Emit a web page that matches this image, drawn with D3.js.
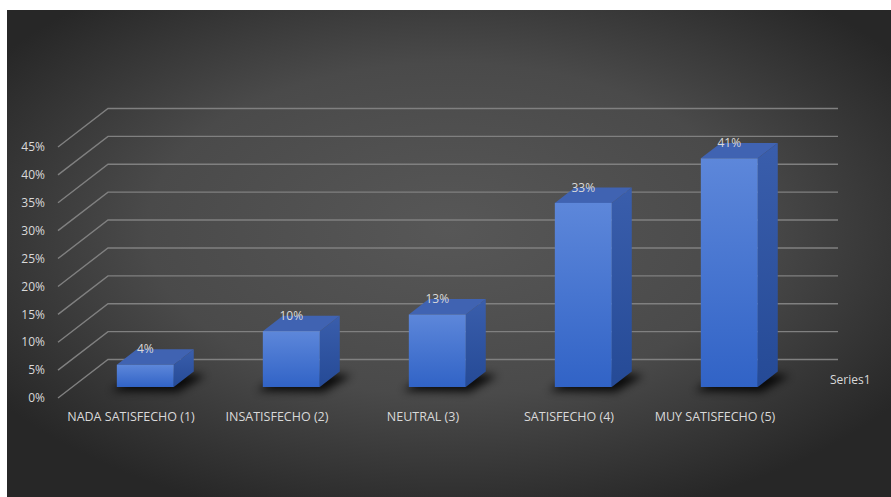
<!DOCTYPE html>
<html>
<head>
<meta charset="utf-8">
<script src="https://cdn.jsdelivr.net/npm/d3@7"></script>
<style>
  html, body { margin: 0; padding: 0; background: #ffffff; }
  svg { display: block; }
  text { font-family: "Open Sans", Lato, sans-serif; fill: #d9d9d9; }
</style>
</head>
<body>
<svg id="chart" width="891" height="497"></svg>
<script>
const categories = ["NADA SATISFECHO (1)", "INSATISFECHO (2)", "NEUTRAL (3)", "SATISFECHO (4)", "MUY SATISFECHO (5)"];
const values = [0.04, 0.10, 0.13, 0.33, 0.41];
const valueLabels = ["4%", "10%", "13%", "33%", "41%"];
const tickValues = [0, 0.05, 0.10, 0.15, 0.20, 0.25, 0.30, 0.35, 0.40, 0.45];
const seriesName = "Series1";

const svg = d3.select("#chart");
const defs = svg.append("defs");

// background
const bg = defs.append("radialGradient").attr("id", "bgGrad")
  .attr("cx", "50%").attr("cy", "45%").attr("r", "62%");
bg.append("stop").attr("offset", "0%").attr("stop-color", "#575757");
bg.append("stop").attr("offset", "55%").attr("stop-color", "#4a4a4a");
bg.append("stop").attr("offset", "100%").attr("stop-color", "#272727");
svg.append("rect").attr("x", 7).attr("y", 10).attr("width", 884).attr("height", 487)
  .attr("fill", "url(#bgGrad)");

// gradients for bar faces
const gFront = defs.append("linearGradient").attr("id", "gFront").attr("x1", 0).attr("y1", 0).attr("x2", 0).attr("y2", 1);
gFront.append("stop").attr("offset", "0%").attr("stop-color", "#5d87da");
gFront.append("stop").attr("offset", "100%").attr("stop-color", "#3163c6");
const gSide = defs.append("linearGradient").attr("id", "gSide").attr("x1", 0).attr("y1", 0).attr("x2", 0).attr("y2", 1);
gSide.append("stop").attr("offset", "0%").attr("stop-color", "#3a5eac");
gSide.append("stop").attr("offset", "100%").attr("stop-color", "#254a96");
const blur = defs.append("filter").attr("id", "shadowBlur").attr("x", "-50%").attr("y", "-50%").attr("width", "200%").attr("height", "200%");
blur.append("feGaussianBlur").attr("stdDeviation", 4);

// 3D oblique geometry
const frontX0 = 58, plotW = 730;
const depthVec = [50, -38.5];   // wall depth (front -> back)
const barDepthStart = 0.286, barDepthLen = 0.4;

const x = d3.scaleBand().domain(categories).range([frontX0, frontX0 + plotW]).paddingInner(0.61).paddingOuter(0.305);
const y = d3.scaleLinear().domain([0, 0.45]).range([398, 147]);

function proj(px, v, t) {
  return [px + depthVec[0] * t, y(v) + depthVec[1] * t];
}

// gridlines (back wall + left floor diagonal)
const grid = svg.append("g");
tickValues.forEach(v => {
  const f = proj(frontX0, v, 0);
  const b = proj(frontX0, v, 1);
  const e = proj(frontX0 + plotW, v, 1);
  grid.append("path")
    .attr("d", d3.line()([f, b, e]))
    .attr("fill", "none").attr("stroke", "#808080").attr("stroke-width", 1.4);
});

// y tick labels
svg.append("g").selectAll("text").data(tickValues).join("text")
  .attr("x", 45).attr("y", d => y(d)).attr("dy", "0.35em")
  .attr("text-anchor", "end").attr("font-size", 12)
  .text(d => d3.format(".0%")(d));

// bars
const bars = svg.append("g");
categories.forEach((c, i) => {
  const v = values[i];
  const x0 = x(c), x1 = x(c) + x.bandwidth();
  const t0 = barDepthStart, t1 = barDepthStart + barDepthLen;
  const fl0 = proj(x0, 0, t0), fr0 = proj(x1, 0, t0);
  const fl1 = proj(x0, v, t0), fr1 = proj(x1, v, t0);
  const br0 = proj(x1, 0, t1), br1 = proj(x1, v, t1), bl1 = proj(x0, v, t1), bl0 = proj(x0, 0, t1);

  // shadow
  bars.append("path")
    .attr("d", d3.line()([
      [fl0[0] - 6, fl0[1] + 4], [fr0[0] + 4, fr0[1] + 5], [br0[0] + 12, br0[1] + 4], [bl0[0] + 6, bl0[1] - 2]
    ]) + "Z")
    .attr("fill", "#000").attr("opacity", 0.85).attr("filter", "url(#shadowBlur)");

  // side
  bars.append("path").attr("d", d3.line()([fr0, br0, br1, fr1]) + "Z").attr("fill", "url(#gSide)");
  // top
  bars.append("path").attr("d", d3.line()([fl1, fr1, br1, bl1]) + "Z").attr("fill", "#4063b2");
  // front
  bars.append("rect").attr("x", fl1[0]).attr("y", fl1[1])
    .attr("width", fr1[0] - fl1[0]).attr("height", fl0[1] - fl1[1])
    .attr("fill", "url(#gFront)");

  // value label
  bars.append("text")
    .attr("x", (fl1[0] + fr1[0]) / 2).attr("y", bl1[1]).attr("dy", "0.35em")
    .attr("text-anchor", "middle").attr("font-size", 12)
    .text(valueLabels[i]);
});

// category labels (front plane)
svg.append("g").selectAll("text").data(categories).join("text")
  .attr("x", d => x(d) + x.bandwidth() / 2).attr("y", 417).attr("dy", "0.35em")
  .attr("text-anchor", "middle").attr("font-size", 12.5)
  .text(d => d);

// series label
svg.append("text").attr("x", 830).attr("y", 380).attr("dy", "0.35em")
  .attr("font-size", 12).text(seriesName);
</script>
</body>
</html>
